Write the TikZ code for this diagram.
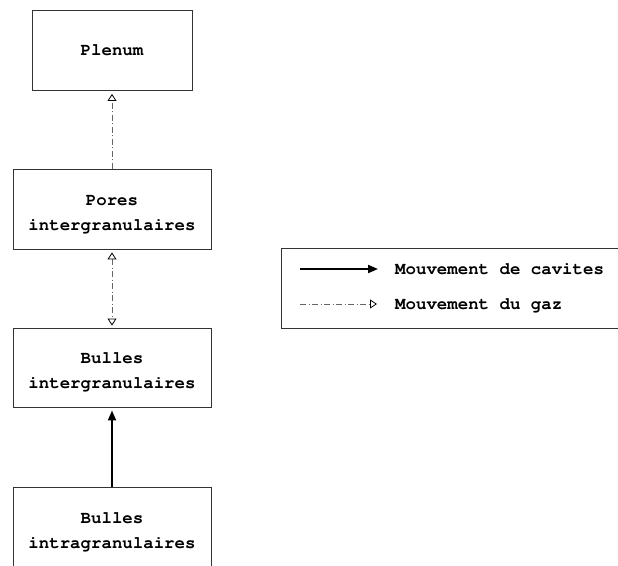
\documentclass[tikz,border=0pt]{standalone}
\usepackage[T1]{fontenc}
\usetikzlibrary{arrows.meta}
\newcommand{\cfont}{\fontfamily{pcr}\bfseries\fontsize{17.4}{25}\selectfont}
\newcommand{\twol}[2]{\raisebox{#1}[\height][\depth]{\begin{tabular}{@{}c@{}}#2\end{tabular}}}
\tikzset{
  box/.style={draw=black!80, line width=0.9pt, fill=white, align=center, inner sep=0pt,
    font=\cfont},
  opentip/.tip={Triangle[open, length=7pt, width=9pt, line width=0.8pt, black]},
  gas/.style={draw=black!60, line width=0.8pt, dash pattern=on 6pt off 2.5pt on 1pt off 2.5pt,
    -opentip},
  gasboth/.style={gas, opentip-opentip},
  cav/.style={draw=black, line width=2pt, -{Triangle[length=10pt, width=8pt]}},
  legtext/.style={anchor=base west, inner sep=0pt, font=\cfont}
}
\begin{document}
\begin{tikzpicture}[x=1pt, y=-1pt]
\useasboundingbox (0,0) rectangle (618,565);
\clip (0,0) rectangle (618,565);
\fill[white] (0,0) rectangle (618,565);
\node[box, minimum width=160pt, minimum height=80pt] (plenum) at (112,50) {Plenum};
\node[box, minimum width=198pt, minimum height=80pt] (pores) at (112,209) {\twol{-3.5pt}{Pores\\intergranulaires}};
\node[box, minimum width=198pt, minimum height=79pt] (inter) at (112,367.5) {\twol{-3.5pt}{Bulles\\intergranulaires}};
\node[box, minimum width=198pt, minimum height=88pt] (intra) at (112,531) {\twol{0pt}{Bulles\\intragranulaires}};
\draw[gas, shorten >=3.5pt] (pores.north) -- (plenum.south);
\draw[gasboth, shorten >=2pt, shorten <=3pt] (pores.south) -- (inter.north);
\draw[cav, shorten >=3pt] (intra.north) -- (inter.south);
% legend
\node[draw=black!80, line width=0.9pt, minimum width=360pt, minimum height=80pt, anchor=north west, inner sep=0pt] (legend) at (281,248) {};
\coordinate (c1) at (300,269);
\coordinate (c2) at (378,269);
\coordinate (g1) at (300,304);
\coordinate (g2) at (377,304);
\draw[cav] (c1) -- (c2);
\draw[gas] (g1) -- (g2);
\node[legtext] (lc) at (395,274) {Mouvement de cavites};
\node[legtext] (lg) at (395,309) {Mouvement du gaz};
\end{tikzpicture}
\end{document}
